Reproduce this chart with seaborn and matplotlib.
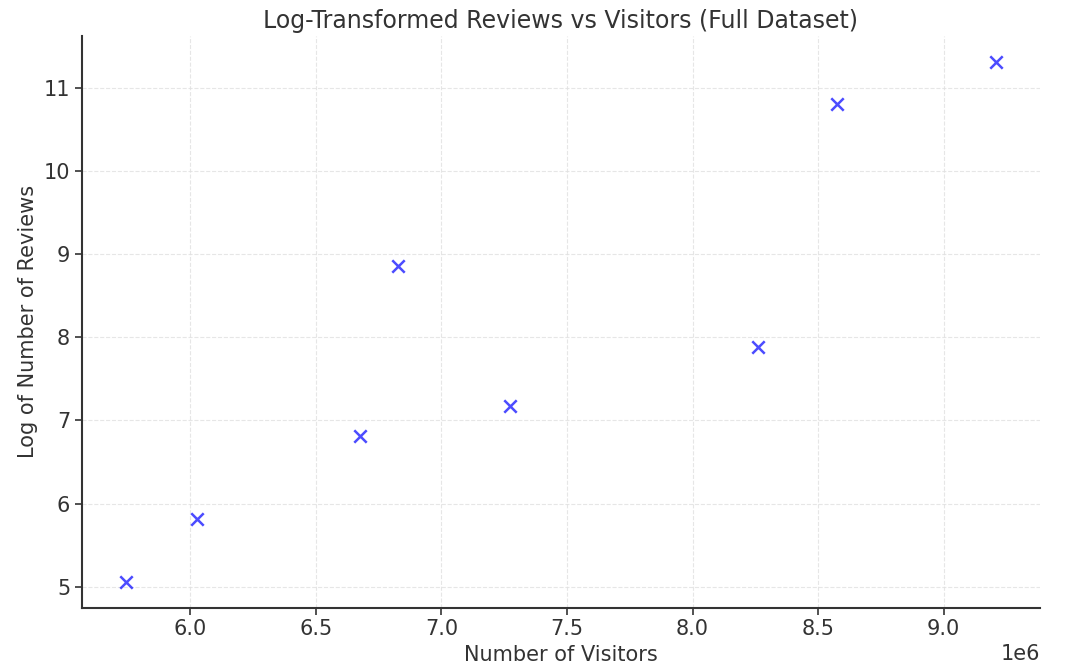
import matplotlib
matplotlib.use("Agg")
import matplotlib.pyplot as plt
import seaborn as sns
import pandas as pd

# Visitors per site and the natural log of its review count
visitors = [5.742e6, 6.026e6, 6.674e6, 6.827e6, 7.272e6, 8.259e6, 8.577e6, 9.21e6]
log_reviews = [5.06, 5.815, 6.81, 8.852, 7.167, 7.885, 10.81, 11.31]

df = pd.DataFrame({"Number of Visitors": visitors, "Log of Number of Reviews": log_reviews})

sns.set_style("white")
plt.rcParams["font.family"] = ["DejaVu Sans"]
text_color = "#333333"
plt.rcParams.update({
    "text.color": text_color,
    "axes.labelcolor": text_color,
    "xtick.color": text_color,
    "ytick.color": text_color,
})

fig, ax = plt.subplots(figsize=(10.71, 6.65), dpi=100)
fig.subplots_adjust(left=0.0766, right=0.971, bottom=0.0862, top=0.9459)

sns.scatterplot(data=df, x="Number of Visitors", y="Log of Number of Reviews",
                marker="x", color="blue", alpha=0.7, s=80, linewidth=1.8, ax=ax)

ax.set_title("Log-Transformed Reviews vs Visitors (Full Dataset)", fontsize=17, color=text_color)
ax.set_xlabel("Number of Visitors", fontsize=15)
ax.set_ylabel("Log of Number of Reviews", fontsize=15)
ax.tick_params(axis="both", labelsize=15, length=5, width=1.2, bottom=True, left=True)

ax.grid(True, linestyle="--", color="#e0e0e0", linewidth=0.8, alpha=0.8)
sns.despine(ax=ax)
for side in ("left", "bottom"):
    ax.spines[side].set_color("#333333")
    ax.spines[side].set_linewidth(1.5)
ax.xaxis.get_offset_text().set_fontsize(15)

fig.savefig("out.png", dpi=100)
